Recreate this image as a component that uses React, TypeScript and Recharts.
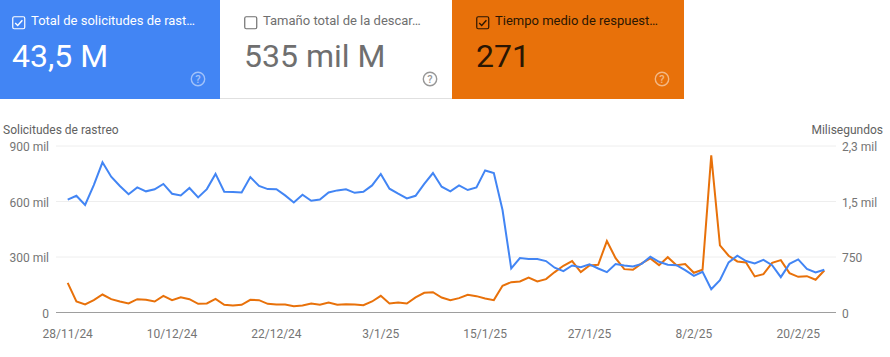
import React from "react";
import { LineChart, Line, XAxis, YAxis, CartesianGrid } from "recharts";

const dates = [
  "28/11/24","29/11/24","30/11/24","1/12/24","2/12/24","3/12/24","4/12/24","5/12/24","6/12/24","7/12/24","8/12/24","9/12/24",
  "10/12/24","11/12/24","12/12/24","13/12/24","14/12/24","15/12/24","16/12/24","17/12/24","18/12/24","19/12/24","20/12/24","21/12/24",
  "22/12/24","23/12/24","24/12/24","25/12/24","26/12/24","27/12/24","28/12/24","29/12/24","30/12/24","31/12/24","1/1/25","2/1/25",
  "3/1/25","4/1/25","5/1/25","6/1/25","7/1/25","8/1/25","9/1/25","10/1/25","11/1/25","12/1/25","13/1/25","14/1/25",
  "15/1/25","16/1/25","17/1/25","18/1/25","19/1/25","20/1/25","21/1/25","22/1/25","23/1/25","24/1/25","25/1/25","26/1/25",
  "27/1/25","28/1/25","29/1/25","30/1/25","31/1/25","1/2/25","2/2/25","3/2/25","4/2/25","5/2/25","6/2/25","7/2/25",
  "8/2/25","9/2/25","10/2/25","11/2/25","12/2/25","13/2/25","14/2/25","15/2/25","16/2/25","17/2/25","18/2/25","19/2/25",
  "20/2/25","21/2/25","22/2/25","23/2/25",
];
const xTicks = ["28/11/24","10/12/24","22/12/24","3/1/25","15/1/25","27/1/25","8/2/25","20/2/25"];

const requests = [
  610,631,581,689,812,734,684,639,676,655,666,695,642,633,673,622,667,749,653,651,649,732,684,667,666,633,595,637,604,611,
  649,660,666,647,653,687,749,669,642,617,631,695,754,680,655,687,662,676,768,754,554,238,294,289,289,278,242,224,254,245,
  260,238,218,262,254,249,263,301,274,258,256,229,198,220,126,175,271,307,278,265,285,256,191,263,287,236,216,231,
];
const responseMs = [
  401,149,108,167,243,180,149,122,180,171,149,225,167,207,180,117,122,185,104,95,104,171,167,117,108,108,86,95,122,104,
  135,104,113,108,99,149,225,122,135,122,203,266,275,203,167,194,239,221,189,167,361,410,419,473,419,451,546,631,694,546,
  636,645,965,735,586,577,663,730,640,748,640,654,537,577,2124,906,767,690,676,487,519,672,708,532,482,491,442,568,
];

const leftTicks = [0, 300, 600, 900];
const leftTickLabels = ["0", "300 mil", "600 mil", "900 mil"];
const rightTicks = [0, 750, 1500, 2250];
const rightTickLabels = ["0", "750", "1,5 mil", "2,3 mil"];

const chartData = dates.map((date, i) => ({ date, requests: requests[i], responseMs: responseMs[i] }));

const FONT = "Roboto, sans-serif";
const AXIS = { fontSize: 12, fill: "#757575", fontFamily: FONT };
const Y_AXIS = { ...AXIS, dy: 1 };

function Check({ x, color, checked }: { x: number; color: string; checked: boolean }) {
  return (
    <svg width="14" height="14" style={{ position: "absolute", left: x, top: 15.5 }}>
      <rect x="0.75" y="0.75" width="12" height="12" rx="1.5" fill="none" stroke={color} strokeWidth="1.2" />
      {checked && <path d="M3.2 7 L5.7 9.4 L10.4 4.2" fill="none" stroke={color} strokeWidth="1.4" />}
    </svg>
  );
}

function Help({ x, color, opacity }: { x: number; color: string; opacity: number }) {
  return (
    <svg width="16" height="16" style={{ position: "absolute", left: x, top: 70.5, opacity }}>
      <circle cx="8" cy="8" r="6.7" fill="none" stroke={color} strokeWidth="1.4" />
      <text x="8" y="12" textAnchor="middle" fontSize="11" fontWeight="500" fontFamily={FONT} fill={color}>?</text>
    </svg>
  );
}

function Card(props: {
  left: number; width: number; bg: string; color: string; label: string; value: string; helpColor: string; helpOpacity: number; checked: boolean; pad: number;
}) {
  const { left, width, bg, color, label, value, helpColor, helpOpacity, checked, pad } = props;
  return (
    <div style={{ position: "absolute", left, top: 0, width, height: 99, background: bg, color, fontFamily: FONT, overflow: "hidden" }}>
      <Check x={pad} color={color} checked={checked} />
      <div style={{ position: "absolute", left: pad + 19, top: 11, fontSize: 13, lineHeight: "20px", whiteSpace: "nowrap" }}>{label}</div>
      <div style={{ position: "absolute", left: pad, top: 36, fontSize: 32, lineHeight: "40px", whiteSpace: "nowrap" }}>{value}</div>
      <Help x={width - 30} color={helpColor} opacity={helpOpacity} />
    </div>
  );
}

export default function App() {
  return (
    <div style={{ position: "fixed", left: 0, top: 0, width: 890, height: 357, background: "#fff", overflow: "hidden" }}>
      <div style={{ position: "absolute", left: 220, top: 98, width: 232, height: 1, background: "#e0e0e0" }} />
      <Card left={0} width={220} bg="#4285f4" color="#ffffff" label="Total de solicitudes de rast…" value="43,5 M" helpColor="#ffffff" helpOpacity={0.5} checked pad={12} />
      <Card left={220} width={232} bg="transparent" color="#6f6f6f" label="Tamaño total de la descar…" value="535 mil M" helpColor="#757575" helpOpacity={0.75} checked={false} pad={24} />
      <Card left={452} width={232} bg="#e8710a" color="#2a1603" label="Tiempo medio de respuest…" value="271" helpColor="#ffffff" helpOpacity={0.5} checked pad={24} />

      <div style={{ position: "absolute", left: 3, top: 122, fontFamily: FONT, fontSize: 12, lineHeight: "16px", color: "#616161" }}>Solicitudes de rastreo</div>
      <div style={{ position: "absolute", right: 7, top: 122, fontFamily: FONT, fontSize: 12, lineHeight: "16px", color: "#616161" }}>Milisegundos</div>

      <div style={{ position: "absolute", left: 0, top: 0 }}>
        <LineChart width={890} height={357} data={chartData} margin={{ top: 146, right: 0, bottom: 0, left: 0 }}>
          <CartesianGrid vertical={false} yAxisId="left" stroke="#eeeeee" strokeWidth={1} />
          <XAxis
            dataKey="date"
            ticks={xTicks}
            interval={0}
            height={44.5}
            padding={{ left: 11.7, right: 11.7 }}
            tick={AXIS}
            tickLine={false}
            tickMargin={11}
            axisLine={{ stroke: "#9e9e9e", strokeWidth: 1 }}
          />
          <YAxis
            yAxisId="left"
            width={56}
            domain={[0, 900]}
            ticks={leftTicks}
            tickFormatter={(v: number) => leftTickLabels[leftTicks.indexOf(v)]}
            tick={Y_AXIS}
            tickLine={false}
            axisLine={false}
            tickMargin={1}
          />
          <YAxis
            yAxisId="right"
            orientation="right"
            width={54}
            domain={[0, 2250]}
            ticks={rightTicks}
            tickFormatter={(v: number) => rightTickLabels[rightTicks.indexOf(v)]}
            tick={Y_AXIS}
            tickLine={false}
            axisLine={false}
            tickMargin={0}
          />
          <Line yAxisId="right" dataKey="responseMs" stroke="#e8710a" strokeWidth={2} dot={false} isAnimationActive={false} />
          <Line yAxisId="left" dataKey="requests" stroke="#4285f4" strokeWidth={2} dot={false} isAnimationActive={false} />
        </LineChart>
      </div>
    </div>
  );
}
